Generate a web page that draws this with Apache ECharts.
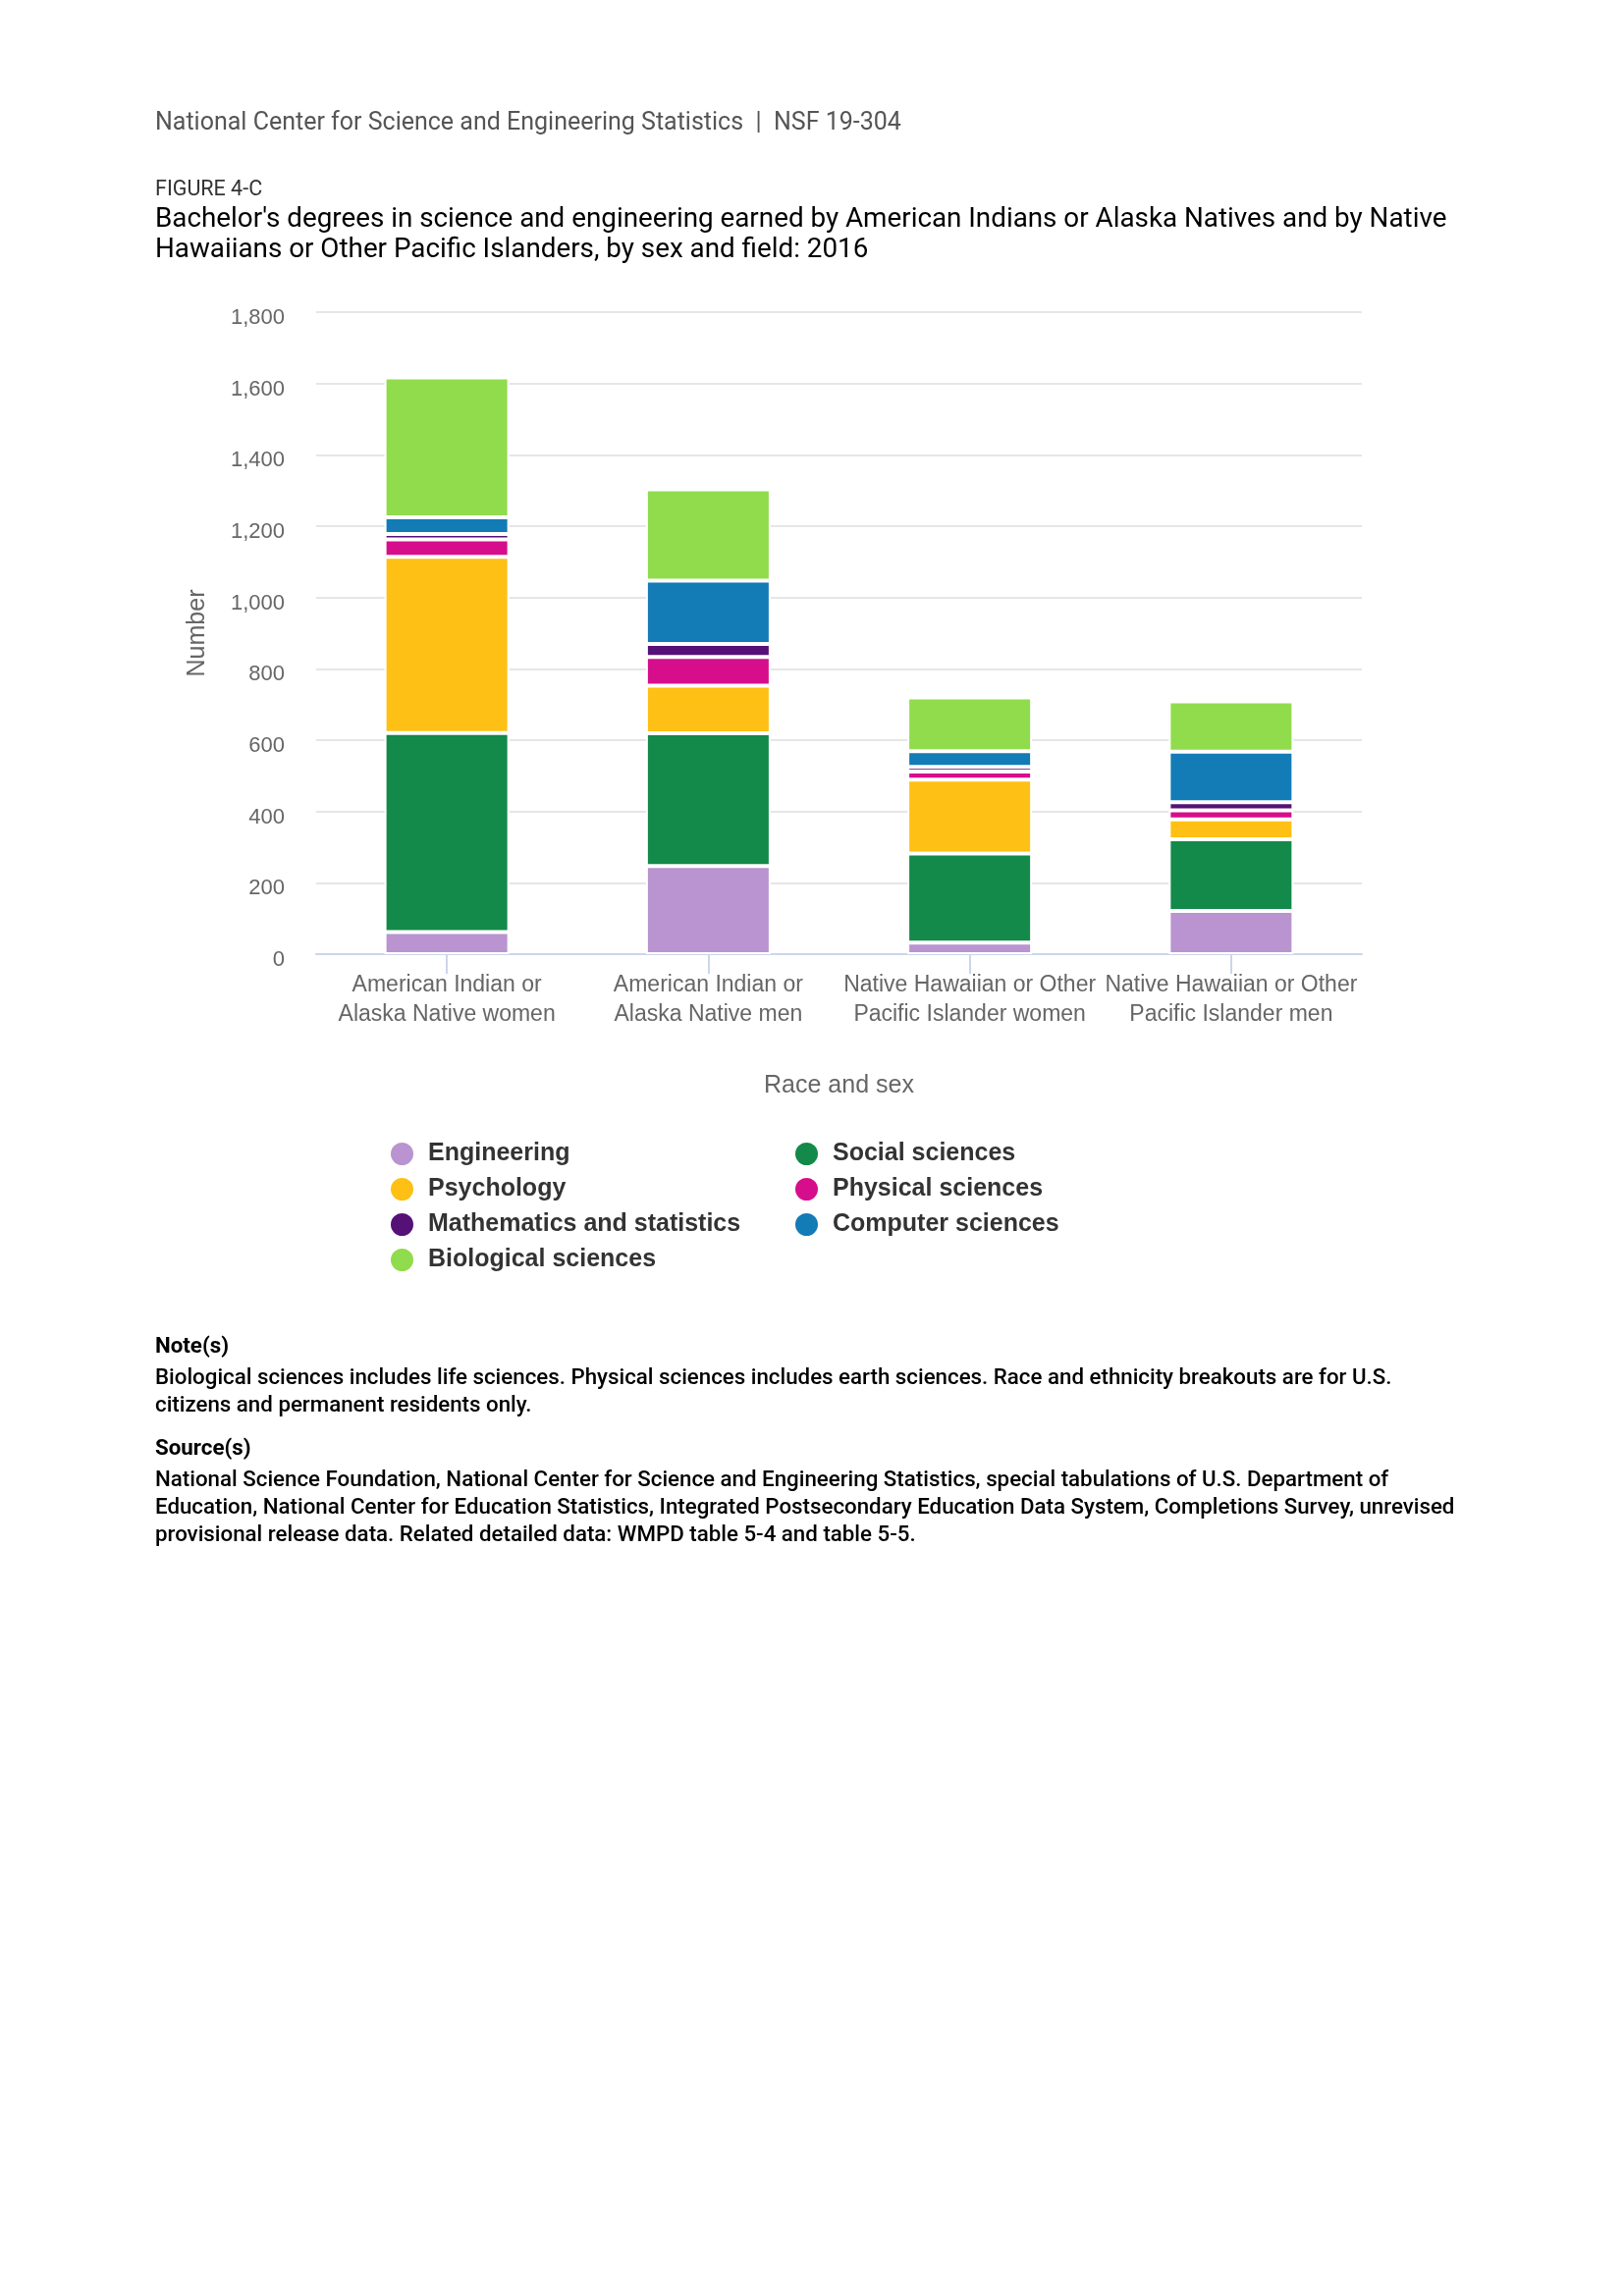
<!DOCTYPE html>
<html>
<head>
<meta charset="utf-8">
<script src="https://cdn.jsdelivr.net/npm/echarts@6/dist/echarts.min.js"></script>
<style>
html,body{margin:0;padding:0;background:#fff;}
#chart{width:1654px;height:2339px;}
</style>
</head>
<body>
<div id="chart"></div>
<script>
const categories = [
  "American Indian or\nAlaska Native women",
  "American Indian or\nAlaska Native men",
  "Native Hawaiian or Other\nPacific Islander women",
  "Native Hawaiian or Other\nPacific Islander men"
];
const engineering = [62, 247, 32, 121];
const socialSciences = [558, 372, 250, 201];
const psychology = [494, 134, 207, 56];
const physicalSciences = [49, 80, 23, 25];
const mathematics = [15, 37, 13, 23];
const computerSciences = [47, 177, 44, 142];
const biologicalSciences = [392, 256, 151, 141];
const yTicks = [0, 200, 400, 600, 800, 1000, 1200, 1400, 1600, 1800];

const seriesDefs = [
  {name: "Engineering", data: engineering, color: "#b994d0"},
  {name: "Social sciences", data: socialSciences, color: "#13894a"},
  {name: "Psychology", data: psychology, color: "#fec015"},
  {name: "Physical sciences", data: physicalSciences, color: "#d60e8c"},
  {name: "Mathematics and statistics", data: mathematics, color: "#561177"},
  {name: "Computer sciences", data: computerSciences, color: "#137bb5"},
  {name: "Biological sciences", data: biologicalSciences, color: "#90dc4c"}
];

const chart = echarts.init(document.getElementById('chart'), null, {renderer: 'canvas'});
const legendText = {fontFamily: 'Liberation Sans, Arial, sans-serif', fontSize: 25, fontWeight: 'bold', color: '#333', padding: [0, 0, 0, 9]};
const noteStyle = {fontFamily: 'Roboto, sans-serif', fontSize: 22.3, fontWeight: 500, fill: '#000'};

function textEl(x, y, text, style) {
  return {type: 'text', left: x, top: y, style: Object.assign({text: text}, style)};
}

const option = {
  animation: false,
  backgroundColor: '#fff',
  grid: {left: 322, right: 267, top: 318, bottom: 1367, containLabel: false},
  xAxis: {
    type: 'category',
    data: categories,
    name: 'Race and sex',
    nameLocation: 'middle',
    nameGap: 122,
    nameTextStyle: {fontFamily: 'Liberation Sans, Arial, sans-serif', fontSize: 25, color: '#666'},
    axisLine: {show: true, lineStyle: {color: '#ccd6eb', width: 2}},
    axisTick: {show: true, alignWithLabel: true, length: 20, lineStyle: {color: '#ccd6eb', width: 2}},
    axisLabel: {fontFamily: 'Liberation Sans, Arial, sans-serif', fontSize: 23, color: '#666', lineHeight: 30, margin: 17, interval: 0}
  },
  yAxis: {
    type: 'value',
    min: 0, max: 1800, interval: 200,
    name: 'Number',
    nameLocation: 'middle',
    nameGap: 108,
    nameRotate: 90,
    nameTextStyle: {fontFamily: 'Liberation Sans, Arial, sans-serif', fontSize: 25, color: '#666'},
    axisLine: {show: false},
    axisTick: {show: false},
    splitLine: {lineStyle: {color: '#e6e6e6', width: 2}},
    axisLabel: {
      fontFamily: 'Liberation Sans, Arial, sans-serif', fontSize: 22, color: '#666', margin: 32,
      verticalAlign: 'top', lineHeight: 12,
      formatter: v => yTicks.includes(v) ? v.toLocaleString('en-US') : ''
    }
  },
  legend: [
    {
      orient: 'vertical', left: 391, top: 1157, itemGap: 9,
      icon: 'circle', itemWidth: 25, itemHeight: 25,
      textStyle: legendText,
      data: ["Engineering", "Psychology", "Mathematics and statistics", "Biological sciences"]
    },
    {
      orient: 'vertical', left: 803, top: 1157, itemGap: 9,
      icon: 'circle', itemWidth: 25, itemHeight: 25,
      textStyle: legendText,
      data: ["Social sciences", "Physical sciences", "Computer sciences"]
    }
  ],
  series: seriesDefs.map(s => ({
    name: s.name,
    type: 'bar',
    stack: 'total',
    data: s.data,
    barWidth: 127,
    itemStyle: {color: s.color, borderColor: '#fff', borderWidth: 2}
  })),
  graphic: [
    textEl(158, 113, 'National Center for Science and Engineering Statistics  |  NSF 19-304', {fontFamily: 'Roboto, sans-serif', fontSize: 25, fill: '#555'}),
    textEl(158, 183, 'FIGURE 4-C', {fontFamily: 'Roboto, sans-serif', fontSize: 21.5, fill: '#333'}),
    textEl(158, 210, "Bachelor's degrees in science and engineering earned by American Indians or Alaska Natives and by Native", {fontFamily: 'Roboto, sans-serif', fontSize: 27.8, fill: '#000'}),
    textEl(158, 241, "Hawaiians or Other Pacific Islanders, by sex and field: 2016", {fontFamily: 'Roboto, sans-serif', fontSize: 27.8, fill: '#000'}),
    textEl(158, 1361, 'Note(s)', Object.assign({}, noteStyle, {fontWeight: 'bold'})),
    textEl(158, 1393, 'Biological sciences includes life sciences. Physical sciences includes earth sciences. Race and ethnicity breakouts are for U.S.', noteStyle),
    textEl(158, 1421, 'citizens and permanent residents only.', noteStyle),
    textEl(158, 1465, 'Source(s)', Object.assign({}, noteStyle, {fontWeight: 'bold'})),
    textEl(158, 1497, 'National Science Foundation, National Center for Science and Engineering Statistics, special tabulations of U.S. Department of', noteStyle),
    textEl(158, 1525, 'Education, National Center for Education Statistics, Integrated Postsecondary Education Data System, Completions Survey, unrevised', noteStyle),
    textEl(158, 1553, 'provisional release data. Related detailed data: WMPD table 5-4 and table 5-5.', noteStyle)
  ]
};
chart.setOption(option);
</script>
</body>
</html>
